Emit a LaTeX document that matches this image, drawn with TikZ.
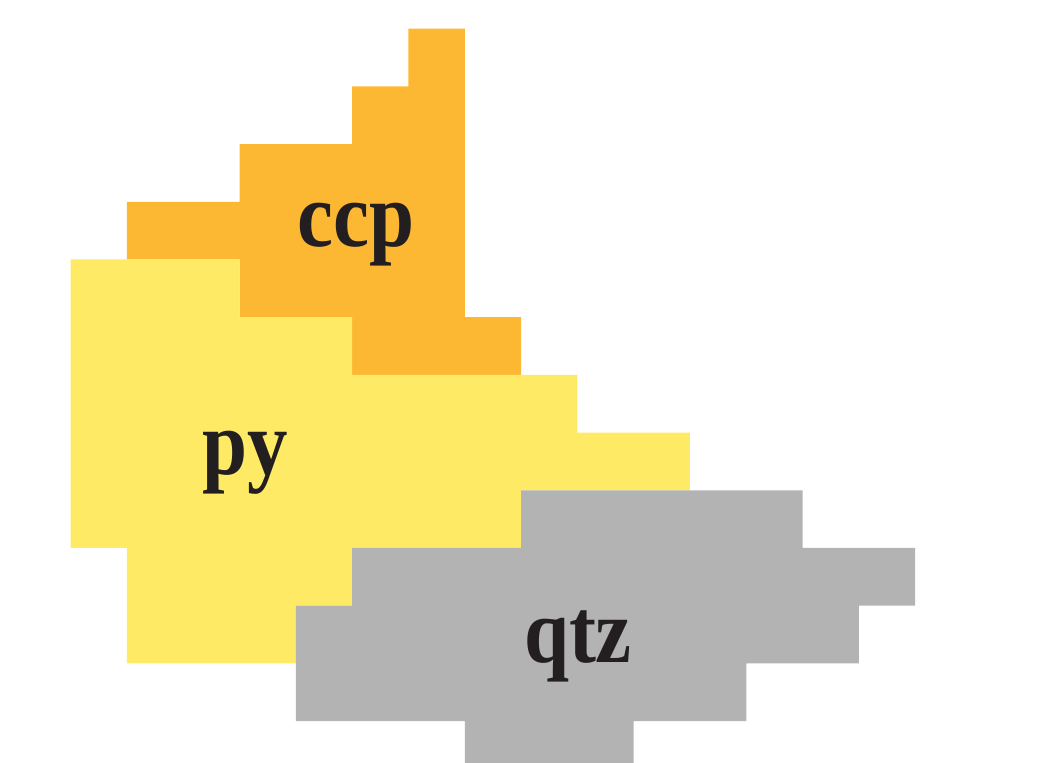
\documentclass[tikz,border=0pt]{standalone}
\usepackage{fontspec}
\setmainfont{Liberation Serif}[FakeStretch=0.88]
\definecolor{ccpcol}{RGB}{253,184,51}
\definecolor{pycol}{RGB}{255,234,102}
\definecolor{qtzcol}{RGB}{179,179,179}
\definecolor{inkcol}{RGB}{35,31,32}
\tikzset{
  grain/.style={draw=none},
  phaselabel/.style={anchor=base, inner sep=0pt, text=inkcol,
    font=\fontsize{92}{92}\selectfont\bfseries}
}
\begin{document}
\begin{tikzpicture}[x=56.3pt,y=-57.7pt]
\useasboundingbox (-1.2558,-0.4974) rectangle (17.359,12.726);
% calcite-type grain (ccp)
\fill[ccpcol, grain] (6,0) -- (7,0) -- (7,5) -- (8,5) -- (8,6) -- (5,6) -- (5,5)
  -- (3,5) -- (3,4) -- (1,4) -- (1,3) -- (3,3) -- (3,2) -- (5,2) -- (5,1)
  -- (6,1) -- cycle;
% pyrite grain (py)
\fill[pycol, grain] (0,4) -- (3,4) -- (3,5) -- (5,5) -- (5,6) -- (9,6) -- (9,7)
  -- (11,7) -- (11,8) -- (8,8) -- (8,9) -- (5,9) -- (5,10) -- (4,10) -- (4,11)
  -- (1,11) -- (1,9) -- (0,9) -- cycle;
% quartz grain (qtz)
\fill[qtzcol, grain] (8,8) -- (13,8) -- (13,9) -- (15,9) -- (15,10) -- (14,10)
  -- (14,11) -- (12,11) -- (12,12) -- (10,12) -- (10,13) -- (7,13) -- (7,12)
  -- (4,12) -- (4,10) -- (5,10) -- (5,9) -- (8,9) -- cycle;
% labels
\node[phaselabel] (ccp) at (5.06,3.78) {ccp};
\node[phaselabel] (py) at (3.10,7.73) {py};
\node[phaselabel] (qtz) at (9.01,10.99) {qtz};
\end{tikzpicture}
\end{document}
